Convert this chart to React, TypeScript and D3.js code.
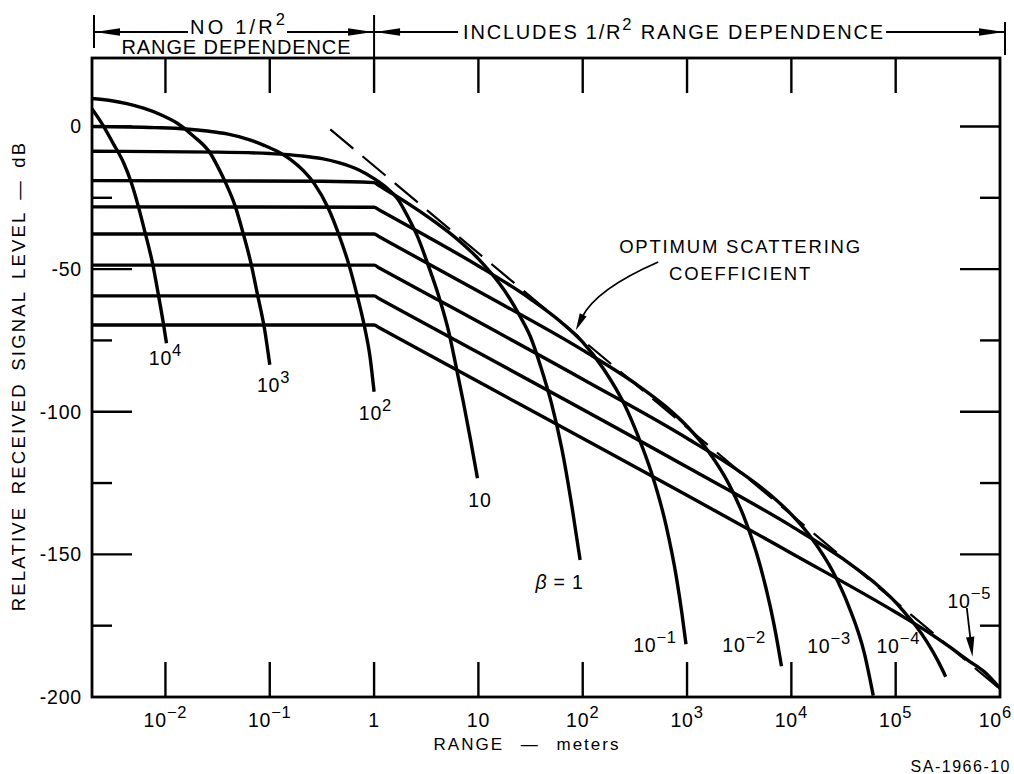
import React from 'react';
import * as d3 from 'd3';

type Pt = [number, number]; // [log10(range in m), level in dB]

// ---------- axes ----------
const rangeDomainExp: [number, number] = [-2.704, 6];
const levelDomain: [number, number] = [-200, 24];

const xTickExps = [-2, -1, 0, 1, 2, 3, 4, 5, 6];
const xTickBase = ['10', '10', '1', '10', '10', '10', '10', '10', '10'];
const xTickSup = ['\u22122', '\u22121', '', '', '2', '3', '4', '5', '6'];
const yMajorTicks = [0, -50, -100, -150, -200];
const yMinorTicks = [-25, -75, -125, -175];

// ---------- curves, one per scattering coefficient beta ----------
const betaE4: Pt[] = [[-2.71, 6.5], [-2.6, 0.5], [-2.5, -6], [-2.4, -12.8], [-2.33, -19.4], [-2.26, -28], [-2.2, -36.5], [-2.12, -48.6], [-2.07, -58.5], [-2.02, -69], [-1.99, -76]];
const betaE3: Pt[] = [[-2.71, 9.8], [-2.53, 9.1], [-2.37, 8.0], [-2.21, 6.4], [-2.05, 4.2], [-1.89, 1.2], [-1.73, -3.4], [-1.57, -9.4], [-1.5, -14], [-1.43, -19.2], [-1.33, -28.1], [-1.26, -36.8], [-1.18, -48], [-1.12, -58.5], [-1.05, -71], [-1.0, -83.5]];
const betaE2: Pt[] = [[-2.71, 0], [-2.1, -0.4], [-1.8, -0.9], [-1.6, -1.6], [-1.41, -2.6], [-1.2, -4.6], [-1.05, -6.7], [-0.92, -8.9], [-0.8, -11.6], [-0.68, -15.4], [-0.57, -20.2], [-0.44, -28.6], [-0.34, -37.7], [-0.24, -48.6], [-0.16, -59.6], [-0.09, -70.5], [-0.04, -80.5], [0.0, -93]];
const betaE1: Pt[] = [[-2.71, -8.7], [-1.5, -9.0], [-1.0, -9.5], [-0.7, -10.3], [-0.5, -11.3], [-0.34, -12.7], [-0.15, -15.2], [0.0, -18.3], [0.12, -21.5], [0.225, -25.3], [0.34, -32.8], [0.42, -38.9], [0.52, -48.8], [0.62, -59.5], [0.716, -72], [0.788, -84.5], [0.855, -96.5], [0.923, -109.5], [0.991, -123.3]];
const betaE0: Pt[] = [[-2.71, -19.0], [-0.5, -19.2], [0.0, -19.7], [0.05, -20.8], [0.2, -24.1], [0.4, -28.8], [0.6, -33.9], [0.8, -39.6], [1.0, -46.4], [1.2, -55], [1.3, -60.3], [1.4, -66.6], [1.5, -73.8], [1.6, -84.5], [1.7, -97], [1.8, -113], [1.9, -134], [1.975, -152]];
const betaEm1: Pt[] = [[-2.71, -28.2], [0.0, -28.3], [0.05, -29.3], [0.5, -38.4], [1.0, -48.9], [1.5, -60.5], [1.8, -68.8], [2.0, -75.6], [2.2, -85], [2.4, -97.5], [2.53, -108.5], [2.66, -121.5], [2.8, -140], [2.9, -158.5], [2.95, -170.5], [2.99, -181.5]];
const betaEm2: Pt[] = [[-2.71, -37.7], [0.0, -37.7], [0.05, -38.7], [1.0, -57.8], [2.0, -78.4], [2.5, -90], [2.8, -98.3], [3.0, -105.1], [3.2, -113.7], [3.4, -125.3], [3.55, -137.3], [3.7, -153.8], [3.8, -168.7], [3.85, -177.7], [3.905, -189.2]];
const betaEm3: Pt[] = [[-2.71, -48.6], [0.0, -48.6], [0.05, -49.6], [2.0, -88.6], [3.0, -109.3], [3.5, -120.9], [3.8, -129.2], [4.0, -136], [4.2, -144.6], [4.4, -156.2], [4.55, -168.2], [4.7, -184.7], [4.785, -199.5]];
const betaEm4: Pt[] = [[-2.71, -59.4], [0.0, -59.4], [0.05, -60.4], [3.0, -119.4], [4.0, -140.1], [4.5, -151.7], [4.8, -160], [5.0, -166.8], [5.1, -171], [5.2, -175.4], [5.3, -180.7], [5.4, -187], [5.48, -192.9]];
const betaEm5: Pt[] = [[-2.71, -69.6], [0.0, -69.6], [0.05, -70.6], [4.0, -149.6], [5.0, -170.3], [5.3, -177], [5.5, -182], [5.7, -187.3], [5.85, -191.2], [6.0, -197]];

const betaCurves: Pt[][] = [betaE4, betaE3, betaE2, betaE1, betaE0, betaEm1, betaEm2, betaEm3, betaEm4, betaEm5];

// optimum scattering coefficient (dashed envelope)
const optimumLine: Pt[] = [[-0.42, -1.0], [6.0, -197.2]];

// ---------- curve labels ----------
const betaLabelBase = ['10', '10', '10', '10', '\u03b2', '10', '10', '10', '10', '10'];
const betaLabelSup = ['4', '3', '2', '', '', '\u22121', '\u22122', '\u22123', '\u22124', '\u22125'];
const betaLabelExp = [-2.0, -0.963, 0.013, 1.015, 1.778, 2.693, 3.548, 4.361, 5.025, 5.706];
const betaLabelDb = [-83.6, -93.0, -102.9, -133.3, -162, -184.1, -184.2, -184.6, -184.7, -168.7];

// annotation anchors [exp, dB]
const optimumTextPos: Pt = [3.513, -44.4];
const optimumArrow: Pt[] = [[2.724, -47.5], [2.121, -57.1], [1.934, -71.4]];
const betaMinus5Arrow: Pt[] = [[5.682, -168.8], [5.736, -185.9]];

const FONT = "'Liberation Sans', Arial, Helvetica, sans-serif";

function head(tx: number, ty: number, dx: number, dy: number, len: number, half: number) {
  const l = Math.hypot(dx, dy) || 1;
  const ux = dx / l, uy = dy / l;
  const bx = tx - ux * len, by = ty - uy * len;
  const nx = -uy, ny = ux;
  return `${tx},${ty} ${bx + nx * half},${by + ny * half} ${bx - nx * half},${by - ny * half}`;
}

export default function App() {
  const W = 1014, H = 774;
  const plot = { left: 92, right: 1000, top: 58, bottom: 697 };
  const x = d3.scaleLog().domain([10 ** rangeDomainExp[0], 10 ** rangeDomainExp[1]]).range([plot.left, plot.right]);
  const y = d3.scaleLinear().domain(levelDomain).range([plot.bottom, plot.top]);
  const px = (e: number) => x(10 ** e);
  const line = d3.line<Pt>().x(d => px(d[0])).y(d => y(d[1])).curve(d3.curveMonotoneX);
  const straight = d3.line<Pt>().x(d => px(d[0])).y(d => y(d[1]));

  const x0 = plot.left, x1 = plot.right, xMid = px(0);
  const bracketY = 32;

  // optimum arrow
  const [ta, ca, tp] = optimumArrow.map(p => [px(p[0]), y(p[1])]);
  const tipDir = [tp[0] - ca[0], tp[1] - ca[1]];
  const tdl = Math.hypot(tipDir[0], tipDir[1]);
  const optHeadLen = 17;
  const optBase = [tp[0] - tipDir[0] / tdl * optHeadLen * 0.8, tp[1] - tipDir[1] / tdl * optHeadLen * 0.8];

  const [a5t, a5h] = betaMinus5Arrow.map(p => [px(p[0]), y(p[1])]);

  const tickW = 2.4;
  const supSize = 16.5;

  return (
    <svg width={W} height={H} viewBox={`0 0 ${W} ${H}`} style={{ position: 'absolute', left: 0, top: 0, display: 'block', background: '#fff' }} fontFamily={FONT}>
      <defs>
        <clipPath id="plotClip">
          <rect x={plot.left} y={plot.top} width={plot.right - plot.left} height={plot.bottom - plot.top} />
        </clipPath>
      </defs>
      <rect x={0} y={0} width={W} height={H} fill="#fff" />

      {/* ticks */}
      <g stroke="#000" strokeWidth={tickW}>
        {xTickExps.filter(e => e < 6).map(e => (
          <g key={'xt' + e}>
            <line x1={px(e)} x2={px(e)} y1={plot.bottom} y2={plot.bottom - 35} />
            <line x1={px(e)} x2={px(e)} y1={plot.top} y2={plot.top + 35} />
          </g>
        ))}
        {yMajorTicks.filter(v => v > -200).map(v => (
          <g key={'ym' + v}>
            <line x1={plot.left} x2={plot.left + 40} y1={y(v)} y2={y(v)} />
            <line x1={plot.right} x2={plot.right - 40} y1={y(v)} y2={y(v)} />
          </g>
        ))}
        {yMinorTicks.map(v => (
          <g key={'yn' + v}>
            <line x1={plot.left} x2={plot.left + 20} y1={y(v)} y2={y(v)} />
            <line x1={plot.right} x2={plot.right - 20} y1={y(v)} y2={y(v)} />
          </g>
        ))}
      </g>

      {/* frame */}
      <rect x={plot.left} y={plot.top} width={plot.right - plot.left} height={plot.bottom - plot.top} fill="none" stroke="#000" strokeWidth={2.8} />

      {/* curves */}
      <g clipPath="url(#plotClip)" fill="none" stroke="#000" strokeWidth={3.4} strokeLinejoin="round">
        {betaCurves.map((c, i) => <path key={'c' + i} d={line(c) || ''} />)}
        <path d={straight(optimumLine) || ''} strokeWidth={2.2} strokeDasharray="30 12" />
      </g>

      {/* tick labels */}
      <g fontSize={19.5} letterSpacing={0.8} fill="#000">
        {yMajorTicks.map(v => (
          <text key={'yl' + v} x={plot.left - 10} y={y(v)} dy="0.36em" textAnchor="end">{v === 0 ? '0' : '-' + Math.abs(v)}</text>
        ))}
        {xTickExps.map((e, i) => {
          const last = i === xTickExps.length - 1;
          return (
            <text key={'xl' + e} x={last ? W - 2 : px(e)} y={727} textAnchor={last ? 'end' : 'middle'}>
              {xTickBase[i]}
              {xTickSup[i] && <tspan dy={-9} fontSize={supSize}>{xTickSup[i]}</tspan>}
            </text>
          );
        })}
      </g>

      {/* curve labels */}
      <g fontSize={19.5} letterSpacing={0.8} fill="#000">
        {betaLabelBase.map((b, i) => (
          <text key={'bl' + i} x={px(betaLabelExp[i])} y={y(betaLabelDb[i])} textAnchor="middle">
            {b === '\u03b2' ? (<><tspan fontStyle="italic">{'\u03b2'}</tspan>{' = 1'}</>) : b}
            {betaLabelSup[i] && <tspan dy={-9} fontSize={supSize}>{betaLabelSup[i]}</tspan>}
          </text>
        ))}
      </g>

      {/* optimum annotation */}
      <g fontSize={18.5} letterSpacing={1.8} fill="#000" textAnchor="middle">
        <text x={px(optimumTextPos[0])} y={y(optimumTextPos[1])}>OPTIMUM SCATTERING</text>
        <text x={px(optimumTextPos[0])} y={y(optimumTextPos[1]) + 27}>COEFFICIENT</text>
      </g>
      <path d={`M${ta[0]},${ta[1]} Q${ca[0]},${ca[1]} ${optBase[0]},${optBase[1]}`} fill="none" stroke="#000" strokeWidth={1.8} />
      <polygon points={head(tp[0], tp[1], tipDir[0], tipDir[1], optHeadLen, 3.8)} fill="#000" />

      {/* beta = 1e-5 arrow */}
      <line x1={a5t[0]} y1={a5t[1]} x2={a5h[0] - (a5h[0] - a5t[0]) * 0.3} y2={a5h[1] - (a5h[1] - a5t[1]) * 0.3} stroke="#000" strokeWidth={1.8} />
      <polygon points={head(a5h[0], a5h[1], a5h[0] - a5t[0], a5h[1] - a5t[1], 20, 4.2)} fill="#000" />

      {/* top range-dependence bracket */}
      <g stroke="#000" strokeWidth={2}>
        <line x1={x0 + 2} x2={x0 + 2} y1={15} y2={48} />
        <line x1={xMid} x2={xMid} y1={15} y2={plot.top} />
        <line x1={x1 + 5} x2={x1 + 5} y1={22} y2={55} />
        <line x1={x0 + 2} x2={x0 + 96} y1={bracketY} y2={bracketY} />
        <line x1={x0 + 195} x2={xMid} y1={bracketY} y2={bracketY} />
        <line x1={xMid} x2={xMid + 84} y1={bracketY} y2={bracketY} />
        <line x1={xMid + 512} x2={x1 + 5} y1={bracketY} y2={bracketY} />
      </g>
      <g fill="#000">
        <polygon points={head(x0 + 3, bracketY, -1, 0, 25, 3.8)} />
        <polygon points={head(xMid - 1, bracketY, 1, 0, 25, 3.8)} />
        <polygon points={head(xMid + 1, bracketY, -1, 0, 25, 3.8)} />
        <polygon points={head(x1 + 4, bracketY, 1, 0, 25, 3.8)} />
      </g>
      <g fontSize={20} fill="#000">
        <text x={x0 + 98} y={33.5} textLength={95} lengthAdjust="spacing">NO 1/R<tspan dy={-9} fontSize={supSize}>2</tspan></text>
        <text x={x0 + 144} y={53.5} textAnchor="middle" textLength={229} lengthAdjust="spacing">RANGE DEPENDENCE</text>
        <text x={xMid + 89} y={38.5} textLength={420} lengthAdjust="spacing">INCLUDES 1/R<tspan dy={-9} fontSize={supSize}>2</tspan><tspan dy={9}> RANGE DEPENDENCE</tspan></text>
      </g>

      {/* axis titles */}
      <text transform="translate(25,376) rotate(-90)" textAnchor="middle" fontSize={18.5} letterSpacing={2.2} wordSpacing={4} fill="#000">RELATIVE RECEIVED SIGNAL LEVEL {'\u2014'} dB</text>
      <text x={527} y={750} textAnchor="middle" fontSize={17} letterSpacing={2} wordSpacing={10} fill="#000">RANGE {'\u2014'} meters</text>
      <text x={1011} y={772} textAnchor="end" fontSize={16} letterSpacing={1.5} fill="#000">SA-1966-10</text>
    </svg>
  );
}
